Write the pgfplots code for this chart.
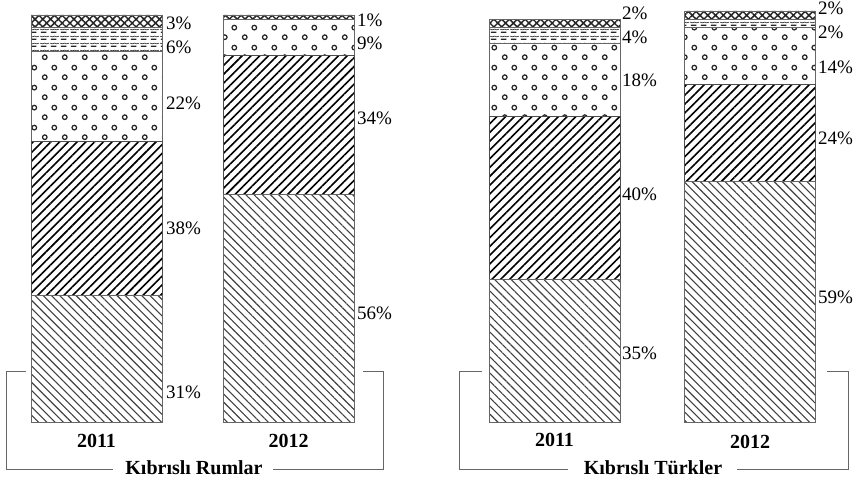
\documentclass[border=0pt]{standalone}
\usepackage{pgfplots}
\pgfplotsset{compat=1.18}
\usepackage{pgfplotstable}
\usepackage{fontspec}
\setmainfont{Liberation Serif}
\usetikzlibrary{patterns,patterns.meta}

\tikzdeclarepattern{
  name=rings, type=uncolored,
  bounding box={(0pt,0pt) and (20pt,20pt)},
  tile size={(20pt,20pt)},
  code={
    \draw[line width=1.3pt] (5pt,5pt) circle (2.4pt);
    \draw[line width=1.3pt] (15pt,15pt) circle (2.4pt);
  }
}
\tikzdeclarepattern{
  name=dashrows, type=uncolored,
  bounding box={(0pt,0pt) and (10pt,7pt)},
  tile size={(10pt,7pt)},
  code={
    \draw[line width=1.5pt] (1pt,2pt) -- (7pt,2pt);
    \draw[line width=0.7pt] (0pt,5.5pt) -- (2.5pt,4.6pt) -- (5pt,5.5pt) -- (7.5pt,4.6pt) -- (10pt,5.5pt);
  }
}

\newcommand\lblfont{\fontsize{19}{21}\selectfont}
\newcommand\catfont{\fontsize{20}{22}\selectfont\bfseries}

\pgfplotstableread{
x     c1 c2 c3 c4 c5
96.5  31 38 22 6  3
288.5 56 34 9  0  1
554.5 35 40 18 4  2
750   59 24 14 2  2
}\bars

\pgfplotstableread{
x   y      v
166 98.03  3
166 92.14  6
166 78.38  22
166 47.67  38
166 7.37   31
357 98.77  1
357 93.12  9
357 74.69  34
357 26.78  56
622 100.49 2
622 94.59  4
622 84.03  18
622 56.02  40
622 16.95  35
818 101.72 2
818 95.82  2
818 87.22  14
818 69.78  24
818 30.71  59
}\labels

\pgfplotstableread{
x     y     t
96.5  -4.7  2011
288.5 -4.7  2012
554.5 -4.4  2011
750   -4.9  2012
}\years

\pgfplotstableread[col sep=comma]{
x,y,t
194,-11.3,Kıbrıslı Rumlar
653,-11.3,Kıbrıslı Türkler
}\groups

\begin{document}
\begin{tikzpicture}
\pgfplotsset{base/.style={
  x=1pt, y=4.07pt,
  xmin=0, xmax=854, ymin=-14.742, ymax=103.686,
  hide axis, clip=false,
  /pgf/number format/assume math mode=true,
}}
\begin{axis}[base, ybar stacked, bar width=131]
\path (rel axis cs:0,0) rectangle (rel axis cs:1,1);
\addplot[draw=black!60, line width=0.8pt, pattern={Lines[angle=-45,distance=5.8pt,line width=1.1pt]}, pattern color=black!75]
  table[x=x,y=c1] {\bars};
\addplot[draw=black!70, line width=0.8pt, pattern={Lines[angle=45,distance=6.2pt,line width=1.6pt]}, pattern color=black]
  table[x=x,y=c2] {\bars};
\addplot[draw=black!60, line width=0.8pt, pattern=rings, pattern color=black!85]
  table[x=x,y=c3] {\bars};
\addplot[draw=black!60, line width=0.8pt, pattern=dashrows, pattern color=black!85]
  table[x=x,y=c4] {\bars};
\addplot[draw=black!60, line width=0.8pt, pattern={Hatch[angle=45,distance=5.5pt,line width=1.5pt]}, pattern color=black!85]
  table[x=x,y=c5] {\bars};
\end{axis}

\begin{axis}[base]
\addplot[draw=none, mark=none, point meta=explicit,
  nodes near coords={\pgfmathprintnumber{\pgfplotspointmeta}\%},
  every node near coord/.append style={anchor=west, inner sep=0pt, font=\lblfont, text=black}]
  table[x=x,y=y,meta=v] {\labels};
\addplot[draw=none, mark=none, point meta=explicit symbolic,
  nodes near coords,
  every node near coord/.append style={anchor=center, inner sep=0pt, font=\catfont}]
  table[x=x,y=y,meta=t] {\years};
\addplot[draw=none, mark=none, point meta=explicit symbolic,
  nodes near coords,
  every node near coord/.append style={anchor=center, inner sep=0pt, font=\catfont}]
  table[x=x,y=y,meta=t] {\groups};
\draw[black!60, line width=1pt] (axis cs:26,12.29) -- (axis cs:6,12.29) -- (axis cs:6,-11.55) -- (axis cs:113,-11.55);
\draw[black!60, line width=1pt] (axis cs:273,-11.55) -- (axis cs:383,-11.55) -- (axis cs:383,12.29) -- (axis cs:363,12.29);
\draw[black!60, line width=1pt] (axis cs:482,12.29) -- (axis cs:459,12.29) -- (axis cs:459,-11.55) -- (axis cs:568,-11.55);
\draw[black!60, line width=1pt] (axis cs:737,-11.55) -- (axis cs:848,-11.55) -- (axis cs:848,12.29) -- (axis cs:827,12.29);
\end{axis}
\end{tikzpicture}
\end{document}
